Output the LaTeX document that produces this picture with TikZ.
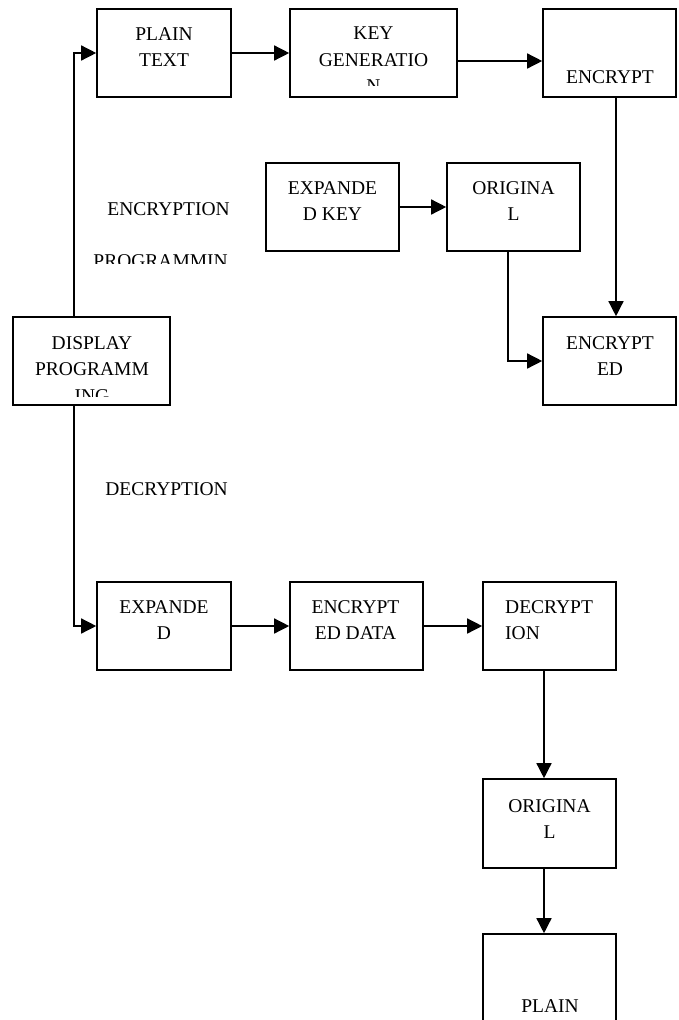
\documentclass[tikz,border=0pt]{standalone}
\usepackage{fontspec}
\setmainfont{Liberation Serif}
\usetikzlibrary{arrows.meta}
\begin{document}
\begin{tikzpicture}[x=1pt,y=-1pt,
  box/.style={draw, line width=1.6pt, minimum width=133pt, minimum height=88pt, inner sep=0pt},
  txt/.style={font=\fontsize{19.5}{26.5}\selectfont, inner sep=0pt, align=center, anchor=north},
  lab/.style={font=\fontsize{19.5}{26.5}\selectfont, inner sep=0pt, anchor=north east},
  arr/.style={line width=1.4pt, -{Triangle[length=15pt,width=15pt]}}]
\useasboundingbox (0,0) rectangle (679,1020);
% boxes
\node[box, minimum width=134pt] (pt) at (164,53) {};
\node[box, minimum width=167pt] (kg) at (373.5,53) {};
\node[box] (enc) at (609.5,53) {};
\node[box] (ek) at (332.5,207) {};
\node[box] (or1) at (513.5,207) {};
\node[box] (encd) at (609.5,361) {};
\node[box, minimum width=157pt] (disp) at (91.5,361) {};
\node[box, minimum width=134pt] (ed) at (164,626) {};
\node[box] (edd) at (356.5,626) {};
\node[box] (dec) at (549.5,626) {};
\node[box, minimum height=89pt] (or2) at (549.5,823.5) {};
\node[box] (pl2) at (549.5,978) {};
% texts
\node[txt] (ptt) at (164,27) {PLAIN\\TEXT};
\begin{scope}
  \clip (290,9) rectangle (457,85);
  \node[txt] (kgt) at (373.5,27) {KEY\\GENERATIO\\N};
\end{scope}
\node[txt] (enct) at (610,70) {ENCRYPT};
\node[txt] (ekt) at (332.5,181) {EXPANDE\\D KEY};
\node[txt] (or1t) at (513.5,181) {ORIGINA\\L};
\node[txt] (encdt) at (610,336) {ENCRYPT\\ED};
\begin{scope}
  \clip (13,317) rectangle (170,396);
  \node[txt] (dispt) at (92,336) {DISPLAY\\PROGRAMM\\ING};
\end{scope}
\node[lab] (l1) at (230,202) {ENCRYPTION};
\begin{scope}
  \clip (80,240) rectangle (240,263);
  \node[lab] (l2) at (228,254) {PROGRAMMIN};
\end{scope}
\node[lab] (l3) at (228,482) {DECRYPTION};
\node[txt] (edt) at (164,600) {EXPANDE\\D};
\node[txt] (eddt) at (355.5,600) {ENCRYPT\\ED DATA};
\node[txt, align=left, anchor=north west] (dect) at (505,600) {DECRYPT\\ION};
\node[txt] (or2t) at (549.5,799) {ORIGINA\\L};
\node[txt] (pl2t) at (550,999) {PLAIN};
% connectors
\coordinate (lx) at (74,0);
\draw[arr] (disp.north -| lx) |- (pt.west);
\draw[arr] (disp.south -| lx) |- (ed.west);
\draw[arr] (pt) -- (kg);
\draw[arr] ([yshift=-8pt]kg.east) -- ([yshift=-8pt]enc.west);
\draw[arr] ([xshift=6.5pt]enc.south) -- ([xshift=6.5pt]encd.north);
\draw[arr] (ek) -- (or1);
\draw[arr] ([xshift=-5.5pt]or1.south) |- (encd.west);
\draw[arr] (ed) -- (edd);
\draw[arr] (edd) -- (dec);
\draw[arr] ([xshift=-5.5pt]dec.south) -- ([xshift=-5.5pt]or2.north);
\draw[arr] ([xshift=-5.5pt]or2.south) -- ([xshift=-5.5pt]pl2.north);
\end{tikzpicture}
\end{document}
